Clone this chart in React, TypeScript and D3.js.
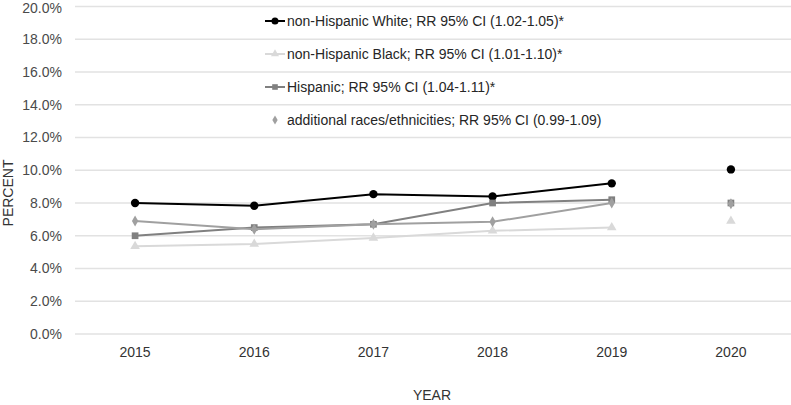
import React from "react";
import * as d3 from "d3";

const years = ["2015", "2016", "2017", "2018", "2019", "2020"];
const white = [8.0, 7.83, 8.54, 8.4, 9.2, 10.05];
const black = [5.36, 5.5, 5.87, 6.3, 6.5, 6.9];
const hispanic = [6.0, 6.5, 6.7, 8.0, 8.2, 8.0];
const additional = [6.9, 6.4, 6.7, 6.85, 8.0, 7.95];
const yTicks = [0, 2, 4, 6, 8, 10, 12, 14, 16, 18, 20];

const seriesNames = [
  "non-Hispanic White; RR 95% CI (1.02-1.05)*",
  "non-Hispanic Black; RR 95% CI (1.01-1.10)*",
  "Hispanic; RR 95% CI (1.04-1.11)*",
  "additional races/ethnicities; RR 95% CI (0.99-1.09)",
];

const W = 791;
const H = 405;
const FONT = "Liberation Sans, Arial, sans-serif";

type Series = {
  name: string;
  values: number[];
  color: string;
  symbol: d3.SymbolType;
  size: number;
  lineW: number;
};

const series: Series[] = [
  { name: seriesNames[0], values: white, color: "#000000", symbol: d3.symbolCircle, size: 55, lineW: 2 },
  { name: seriesNames[1], values: black, color: "#d9d9d9", symbol: d3.symbolTriangle, size: 40, lineW: 2 },
  { name: seriesNames[2], values: hispanic, color: "#808080", symbol: d3.symbolSquare, size: 45, lineW: 2 },
  { name: seriesNames[3], values: additional, color: "#a0a0a0", symbol: d3.symbolDiamond, size: 35, lineW: 2 },
];

export default function App() {
  const x = d3.scaleBand<string>().domain(years).range([75.5, 790.5]);
  const y = d3.scaleLinear().domain([0, 20]).range([334, 6.5]);
  const cx = (yr: string) => (x(yr) as number) + x.bandwidth() / 2;

  const line = d3
    .line<number>()
    .x((_, i) => cx(years[i]))
    .y((d) => y(d));

  return (
    <svg
      width={W}
      height={H}
      style={{ position: "absolute", left: 0, top: 0, background: "#fff" }}
    >
      <rect width={W} height={H} fill="#fff" />
      {yTicks.map((t) => (
        <g key={t}>
          <line x1={75} x2={791} y1={y(t)} y2={y(t)} stroke="#e2e2e2" strokeWidth={1.3} />
          <text
            x={62}
            y={Math.max(y(t), 8)}
            dy="0.35em"
            textAnchor="end"
            fontFamily={FONT}
            fontSize={14}
            fill="#4a4a4a"
          >
            {t.toFixed(1) + "%"}
          </text>
        </g>
      ))}
      {years.map((yr) => (
        <text
          key={yr}
          x={cx(yr)}
          y={352}
          dy="0.35em"
          textAnchor="middle"
          fontFamily={FONT}
          fontSize={14}
          fill="#333333"
        >
          {yr}
        </text>
      ))}
      <text
        x={432}
        y={395}
        dy="0.35em"
        textAnchor="middle"
        fontFamily={FONT}
        fontSize={14}
        fill="#333333"
      >
        YEAR
      </text>
      <text
        transform={`translate(8,193) rotate(-90)`}
        dy="0.35em"
        textAnchor="middle"
        fontFamily={FONT}
        fontSize={14}
        fill="#333333"
      >
        PERCENT
      </text>

      {series.map((s, si) => (
        <g key={si}>
          <path
            d={line(s.values.slice(0, 5)) as string}
            fill="none"
            stroke={s.color}
            strokeWidth={s.lineW}
          />
          {s.values.map((v, i) => (
            <path
              key={i}
              d={d3.symbol().type(s.symbol).size(s.size)() as string}
              transform={`translate(${cx(years[i])},${y(v)})`}
              fill={s.color}
            />
          ))}
        </g>
      ))}

      {series.map((s, i) => {
        const ly = 21 + i * 33;
        return (
          <g key={"lg" + i}>
            {i < 3 && (
              <line x1={265} x2={285} y1={ly} y2={ly} stroke={s.color} strokeWidth={2} />
            )}
            <path
              d={d3.symbol().type(s.symbol).size(s.size * 0.7)() as string}
              transform={`translate(275,${ly})`}
              fill={s.color}
            />
            <text
              x={287}
              y={ly}
              dy="0.35em"
              fontFamily={FONT}
              fontSize={14}
              fill="#262626"
            >
              {s.name}
            </text>
          </g>
        );
      })}
    </svg>
  );
}
